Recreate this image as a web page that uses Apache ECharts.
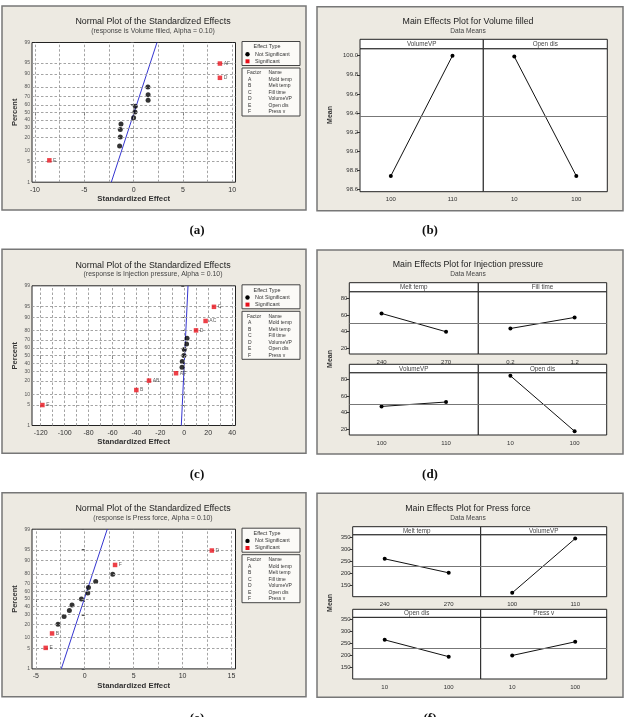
<!DOCTYPE html>
<html><head><meta charset="utf-8">
<script src="https://cdn.jsdelivr.net/npm/echarts@6/dist/echarts.min.js"></script>
<style>html,body{margin:0;padding:0;background:#fff}#c{width:624px;height:717px}</style>
</head><body><div id="c"></div>
<script>
// ================= DATA =================
const percentTicks = [1, 5, 10, 20, 30, 40, 50, 60, 70, 80, 90, 95, 99];
const factorLetters = ['A', 'B', 'C', 'D', 'E', 'F'];
const factorNames = ['Mold temp', 'Melt temp', 'Fill time', 'VolumeVP', 'Open dis', 'Press v'];

// (a) Normal plot - Volume filled
const aSigEffect = [-8.54, 8.75, 8.75];
const aSigPercent = [5.5, 87.5, 94.8];
const aSigLabel = ['E', 'D', 'AF'];
const aNsEffect = [-1.42, -1.35, -1.35, -1.28, 0.0, 0.14, 0.17, 1.47, 1.47, 1.45];
const aNsPercent = [13.2, 20.7, 28.3, 35, 43, 50.5, 58, 65.5, 72, 80];
const aFitEffect = [-2.26, 2.37];
const aFitPercent = [1, 99];
const aXTicks = [-10, -5, 0, 5, 10];
const aXGrid = [-10, -7.5, -5, -2.5, 0, 2.5, 5, 7.5, 10];

// (c) Normal plot - Injection pressure
const cSigEffect = [-118.6, -40.1, -29.5, -6.9, 9.8, 17.8, 24.8];
const cSigPercent = [5.0, 12.6, 20.3, 27.9, 80, 87.6, 94.8];
const cSigLabel = ['E', 'B', 'AB', 'AF', 'D', 'AC', 'C'];
const cNsEffect = [-1.9, -1.7, -0.3, 0.0, 1.9, 2.3];
const cNsPercent = [35, 42.3, 50.3, 58.2, 65, 72];
const cFitEffect = [-2.5, 3.1];
const cFitPercent = [1, 99];
const cXTicks = [-120, -100, -80, -60, -40, -20, 0, 20, 40];
const cXGrid = [-120, -110, -100, -90, -80, -70, -60, -50, -40, -30, -20, -10, 0, 10, 20, 30, 40];

// (e) Normal plot - Press force
const eSigEffect = [-3.99, -3.34, 3.1, 12.99];
const eSigPercent = [5.2, 12.6, 87.2, 94.7];
const eSigLabel = ['E', 'B', 'F', 'D'];
const eNsEffect = [-2.73, -2.11, -1.57, -1.3, -0.34, 0.31, 0.38, 1.12, 2.86];
const eNsPercent = [20, 28, 35, 42, 50, 58, 65, 72, 79.5];
const eFitEffect = [-2.4, 2.3];
const eFitPercent = [1, 99];
const eXTicks = [-5, 0, 5, 10, 15];
const eXGrid = [-5, -2.5, 0, 2.5, 5, 7.5, 10, 12.5, 15];

// (b) Main effects - Volume filled
const bFactors = ['VolumeVP', 'Open dis'];
const bLevels = [['100', '110'], ['10', '100']];
const bMeans = [[98.74, 100.0], [99.99, 98.74]];
const bGrandMean = 99.37;
const bYTicks = [98.6, 98.8, 99.0, 99.2, 99.4, 99.6, 99.8, 100.0];

// (d) Main effects - Injection pressure
const dFactors = ['Melt temp', 'Fill time', 'VolumeVP', 'Open dis'];
const dLevels = [['240', '270'], ['0.2', '1.2'], ['100', '110'], ['10', '100']];
const dMeans = [[61.8, 39.8], [43.7, 57.0], [47.4, 52.7], [84.3, 17.5]];
const dGrandMean = 50.5;
const dYTicks = [20, 40, 60, 80];

// (f) Main effects - Press force
const fFactors = ['Melt temp', 'VolumeVP', 'Open dis', 'Press v'];
const fLevels = [['240', '270'], ['100', '110'], ['10', '100'], ['10', '100']];
const fMeans = [[260, 202], [119, 344], [266, 196], [201, 258]];
const fGrandMean = 230;
const fYTicks = [150, 200, 250, 300, 350];

// ================= HELPERS =================
function probit(p) {
  const a=[-3.969683028665376e+01,2.209460984245205e+02,-2.759285104469687e+02,1.383577518672690e+02,-3.066479806614716e+01,2.506628277459239e+00];
  const b=[-5.447609879822406e+01,1.615858368580409e+02,-1.556989798598866e+02,6.680131188771972e+01,-1.328068155288572e+01];
  const c=[-7.784894002430293e-03,-3.223964580411365e-01,-2.400758277161838e+00,-2.549732539343734e+00,4.374664141464968e+00,2.938163982698783e+00];
  const d=[7.784695709041462e-03,3.224671290700398e-01,2.445134137142996e+00,3.754408661907416e+00];
  const pl=0.02425, ph=1-pl; let q, r;
  if (p < pl) { q=Math.sqrt(-2*Math.log(p)); return (((((c[0]*q+c[1])*q+c[2])*q+c[3])*q+c[4])*q+c[5])/((((d[0]*q+d[1])*q+d[2])*q+d[3])*q+1); }
  if (p <= ph) { q=p-0.5; r=q*q; return (((((a[0]*r+a[1])*r+a[2])*r+a[3])*r+a[4])*r+a[5])*q/(((((b[0]*r+b[1])*r+b[2])*r+b[3])*r+b[4])*r+1); }
  q=Math.sqrt(-2*Math.log(1-p)); return -(((((c[0]*q+c[1])*q+c[2])*q+c[3])*q+c[4])*q+c[5])/((((d[0]*q+d[1])*q+d[2])*q+d[3])*q+1);
}
const zOf = pct => probit(pct / 100);

const FONT = '"Liberation Sans", Arial, sans-serif';
const grids = [], xAxes = [], yAxes = [], series = [], graphics = [];

function txt(x, y, t, size, opt) {
  opt = opt || {};
  graphics.push({ type: 'text', x: x, y: y, z: 30, rotation: opt.rot || 0, silent: true,
    style: { text: t, font: (opt.weight || 'normal') + ' ' + size + 'px ' + (opt.family || FONT),
      fill: opt.fill || '#222', textAlign: opt.align || 'center', textVerticalAlign: opt.va || 'middle' } });
}
function rect(x, y, w, h, fill, stroke, lw, z) {
  graphics.push({ type: 'rect', z: z, silent: true, shape: { x: x, y: y, width: w, height: h },
    style: { fill: fill, stroke: stroke, lineWidth: lw } });
}
function frame(x, y, w, h) { rect(x, y, w, h, '#EDEAE2', '#777', 1.5, -20); }

// ================= NORMAL PLOTS =================
function normalPlot(cfg) {
  const gi = grids.length;
  const left = 32, w = 203.5, top = cfg.frameTop + 36.5, h = 139.7;
  frame(2, cfg.frameTop, 304, 204);
  grids.push({ left: left, top: top, width: w, height: h, show: true, backgroundColor: '#fff', borderColor: '#222', borderWidth: 1 });
  xAxes.push({ gridIndex: gi, type: 'value', min: cfg.xMin, max: cfg.xMax,
    axisLine: { show: false }, splitLine: { show: false },
    axisTick: { show: true, customValues: cfg.xTicks, length: 3, lineStyle: { color: '#333' } },
    axisLabel: { customValues: cfg.xTicks, fontSize: 7, color: '#333', margin: 4, fontFamily: FONT } });
  const zt = percentTicks.map(zOf);
  yAxes.push({ gridIndex: gi, type: 'value', min: zt[0] - 1e-9, max: zt[zt.length - 1] + 1e-9,
    axisLine: { show: false }, splitLine: { show: false },
    axisTick: { show: true, customValues: zt, length: 3, lineStyle: { color: '#555' } },
    axisLabel: { customValues: zt, fontSize: 5, color: '#555', margin: 2, fontFamily: FONT,
      formatter: function (v) { const i = zt.findIndex(t => Math.abs(t - v) < 1e-6); return i < 0 ? '' : String(percentTicks[i]); } } });
  // grid lines
  series.push({ type: 'line', xAxisIndex: gi, yAxisIndex: gi, data: [], silent: true, z: 1,
    markLine: { silent: true, symbol: 'none', animation: false, label: { show: false },
      lineStyle: { color: '#9a9a9a', type: [2.5, 2], width: 0.9 },
      data: cfg.xGrid.map(v => ({ xAxis: v })).concat(percentTicks.slice(1, -1).map(p => ({ yAxis: zOf(p) }))) } });
  // fitted line
  series.push({ type: 'line', xAxisIndex: gi, yAxisIndex: gi, z: 3, symbol: 'none', silent: true,
    lineStyle: { color: '#3535d0', width: 1 },
    data: cfg.fitE.map((e, i) => [e, zOf(cfg.fitP[i])]) });
  series.push({ type: 'scatter', xAxisIndex: gi, yAxisIndex: gi, z: 4, symbol: 'circle', symbolSize: 5,
    itemStyle: { color: '#000' }, data: cfg.nsE.map((e, i) => [e, zOf(cfg.nsP[i])]) });
  series.push({ type: 'scatter', xAxisIndex: gi, yAxisIndex: gi, z: 5, symbol: 'rect', symbolSize: 4.5,
    itemStyle: { color: '#e8101a' },
    label: { show: true, position: 'right', distance: 1.5, formatter: '{b}', fontSize: 5, color: '#333', fontFamily: FONT },
    data: cfg.sE.map((e, i) => ({ name: cfg.sL[i], value: [e, zOf(cfg.sP[i])] })) });
  // texts
  txt(153, cfg.frameTop + 16, 'Normal Plot of the Standardized Effects', 8.9, { fill: '#222' });
  txt(153, cfg.frameTop + 25, cfg.sub, 6.9, { fill: '#444' });
  txt(15, top + h / 2, 'Percent', 7.5, { rot: Math.PI / 2, weight: 'bold', fill: '#333' });
  txt(left + w / 2, top + h + 16.5, 'Standardized Effect', 7.8, { weight: 'bold', fill: '#333' });
  // legend boxes
  const bx = 242, bw = 58;
  rect(bx, top - 1, bw, 24, '#fbfaf7', '#444', 1, 10);
  txt(bx + 25, top + 4.5, 'Effect Type', 5.4, { fill: '#333' });
  graphics.push({ type: 'circle', z: 31, silent: true, shape: { cx: bx + 5.5, cy: top + 11.7, r: 2.2 }, style: { fill: '#000' } });
  txt(bx + 13, top + 11.7, 'Not Significant', 5.4, { align: 'left', fill: '#333' });
  rect(bx + 3.5, top + 16.8, 4, 4, '#e8101a', null, 0, 31);
  txt(bx + 13, top + 18.8, 'Significant', 5.4, { align: 'left', fill: '#333' });
  const b2 = top + 25.5;
  rect(bx, b2, bw, 48, '#fbfaf7', '#444', 1, 10);
  txt(bx + 5, b2 + 5, 'Factor', 5, { align: 'left', fill: '#333' });
  txt(bx + 26.5, b2 + 5, 'Name', 5, { align: 'left', fill: '#333' });
  factorLetters.forEach((L, i) => {
    txt(bx + 6, b2 + 11.5 + i * 6.5, L, 5, { align: 'left', fill: '#333' });
    txt(bx + 26.5, b2 + 11.5 + i * 6.5, factorNames[i], 5, { align: 'left', fill: '#333' });
  });
}

normalPlot({ frameTop: 6, sub: '(response is Volume filled, Alpha = 0.10)', xMin: -10.3, xMax: 10.33,
  xTicks: aXTicks, xGrid: aXGrid, fitE: aFitEffect, fitP: aFitPercent, nsE: aNsEffect, nsP: aNsPercent,
  sE: aSigEffect, sP: aSigPercent, sL: aSigLabel });
normalPlot({ frameTop: 249.3, sub: '(response is Injection pressure, Alpha = 0.10)', xMin: -127.3, xMax: 42.8,
  xTicks: cXTicks, xGrid: cXGrid, fitE: cFitEffect, fitP: cFitPercent, nsE: cNsEffect, nsP: cNsPercent,
  sE: cSigEffect, sP: cSigPercent, sL: cSigLabel });
normalPlot({ frameTop: 492.7, sub: '(response is Press force, Alpha = 0.10)', xMin: -5.39, xMax: 15.41,
  xTicks: eXTicks, xGrid: eXGrid, fitE: eFitEffect, fitP: eFitPercent, nsE: eNsEffect, nsP: eNsPercent,
  sE: eSigEffect, sP: eSigPercent, sL: eSigLabel });

// ================= MAIN EFFECTS =================
function mainEffects(cfg) {
  frame(317, cfg.frameTop, 306, 204);
  txt(468, cfg.titleY, cfg.title, 8.8, { fill: '#222' });
  txt(468, cfg.titleY + 9, 'Data Means', 6.6, { fill: '#444' });
  txt(330.5, cfg.meanY, 'Mean', 7, { rot: Math.PI / 2, weight: 'bold', fill: '#333' });
  cfg.cells.forEach((c, k) => {
    const gi = grids.length;
    grids.push({ left: c.l, top: c.t, width: c.w, height: c.h, show: true, backgroundColor: '#fff', borderColor: '#222', borderWidth: 1 });
    rect(c.l, c.st, c.w, c.t - c.st, '#fff', '#222', 1, 10);
    txt(c.l + c.w / 2, (c.st + c.t) / 2 + 0.3, cfg.factors[k], 6.3, { fill: '#444' });
    xAxes.push({ gridIndex: gi, type: 'category', data: cfg.levels[k], boundaryGap: true,
      axisLine: { show: false }, axisTick: { show: false }, splitLine: { show: false },
      axisLabel: { fontSize: 6, color: '#333', margin: 5, fontFamily: FONT } });
    const showY = c.l < 400;
    yAxes.push({ gridIndex: gi, type: 'value', min: cfg.yMin, max: cfg.yMax,
      axisLine: { show: false }, splitLine: { show: false },
      axisTick: { show: showY, customValues: cfg.yTicks, length: 3, lineStyle: { color: '#333' } },
      axisLabel: { show: showY, customValues: cfg.yTicks, fontSize: 6, color: '#333', margin: 2, fontFamily: FONT,
        formatter: cfg.fmt } });
    series.push({ type: 'line', xAxisIndex: gi, yAxisIndex: gi, z: 4, symbol: 'circle', symbolSize: 4,
      itemStyle: { color: '#000' }, lineStyle: { color: '#111', width: 1 },
      data: cfg.means[k],
      markLine: { silent: true, symbol: 'none', label: { show: false }, animation: false,
        lineStyle: { color: '#777', type: 'solid', width: 1 }, data: [{ yAxis: cfg.grand }] } });
  });
}

mainEffects({ frameTop: 6.7, titleY: 22, meanY: 115, title: 'Main Effects Plot for Volume filled',
  factors: bFactors, levels: bLevels, means: bMeans, grand: bGrandMean, yTicks: bYTicks,
  yMin: 98.575, yMax: 100.073, fmt: v => v.toFixed(1),
  cells: [{ l: 360, t: 48.7, w: 123.3, h: 143, st: 39.3 }, { l: 483.3, t: 48.7, w: 124, h: 143, st: 39.3 }] });
mainEffects({ frameTop: 250, titleY: 265, meanY: 359, title: 'Main Effects Plot for Injection pressure',
  factors: dFactors, levels: dLevels, means: dMeans, grand: dGrandMean, yTicks: dYTicks,
  yMin: 13, yMax: 88, fmt: v => String(v),
  cells: [{ l: 349.3, t: 291.7, w: 129, h: 62.3, st: 282.7 }, { l: 478.3, t: 291.7, w: 128.4, h: 62.3, st: 282.7 },
          { l: 349.3, t: 372.7, w: 129, h: 62.3, st: 364.3 }, { l: 478.3, t: 372.7, w: 128.4, h: 62.3, st: 364.3 }] });
mainEffects({ frameTop: 493.3, titleY: 508.7, meanY: 603, title: 'Main Effects Plot for Press force',
  factors: fFactors, levels: fLevels, means: fMeans, grand: fGrandMean, yTicks: fYTicks,
  yMin: 103, yMax: 360, fmt: v => String(v),
  cells: [{ l: 352.7, t: 534.7, w: 128, h: 62, st: 526.7 }, { l: 480.7, t: 534.7, w: 126, h: 62, st: 526.7 },
          { l: 352.7, t: 617.3, w: 128, h: 61.7, st: 609.3 }, { l: 480.7, t: 617.3, w: 126, h: 61.7, st: 609.3 }] });

// captions
const capFont = { weight: 'bold', family: '"Liberation Serif", "Times New Roman", serif', fill: '#111' };
[['(a)', 197, 231], ['(b)', 430, 231], ['(c)', 197, 475], ['(d)', 430, 475], ['(e)', 197, 719], ['(f)', 430, 719]]
  .forEach(c => txt(c[1], c[2], c[0], 13, capFont));

const chart = echarts.init(document.getElementById('c'), null, { renderer: 'canvas' });
chart.setOption({ animation: false, backgroundColor: '#fff', grid: grids, xAxis: xAxes, yAxis: yAxes, series: series, graphic: graphics });
</script></body></html>
